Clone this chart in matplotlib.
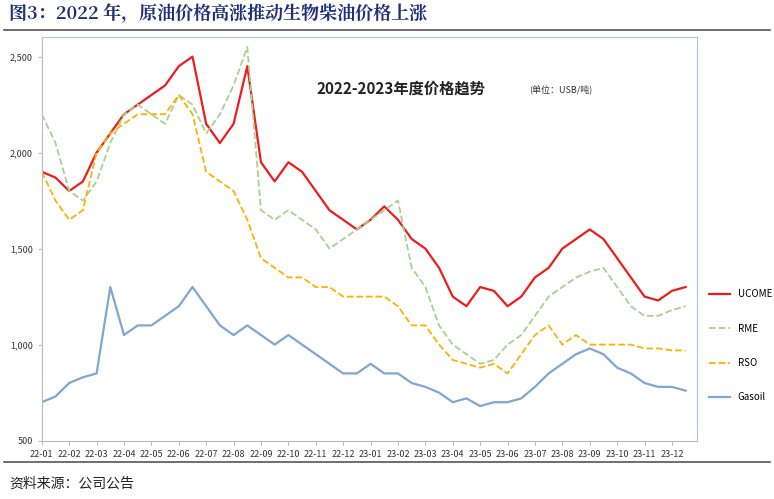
import matplotlib.pyplot as plt
import numpy as np

plt.rcParams["font.family"] = ["Noto Sans CJK SC"]

# 月度标签与半月数据（单位：USD/吨）
months = ["22-01", "22-02", "22-03", "22-04", "22-05", "22-06", "22-07", "22-08",
          "22-09", "22-10", "22-11", "22-12", "23-01", "23-02", "23-03", "23-04",
          "23-05", "23-06", "23-07", "23-08", "23-09", "23-10", "23-11", "23-12"]
ucome = [1900, 1870, 1800, 1850, 2000, 2100, 2200, 2250, 2300, 2350, 2450, 2500,
         2150, 2050, 2150, 2450, 1950, 1850, 1950, 1900, 1800, 1700, 1650, 1600,
         1650, 1720, 1650, 1550, 1500, 1400, 1250, 1200, 1300, 1280, 1200, 1250,
         1350, 1400, 1500, 1550, 1600, 1550, 1450, 1350, 1250, 1230, 1280, 1300]
rme = [2200, 2050, 1800, 1750, 1850, 2050, 2200, 2250, 2200, 2150, 2300, 2250,
       2100, 2200, 2350, 2550, 1700, 1650, 1700, 1650, 1600, 1500, 1550, 1600,
       1650, 1700, 1750, 1400, 1300, 1100, 1000, 950, 900, 920, 1000, 1050,
       1150, 1250, 1300, 1350, 1380, 1400, 1300, 1200, 1150, 1150, 1180, 1200]
rso = [1900, 1750, 1650, 1700, 2000, 2100, 2150, 2200, 2200, 2200, 2300, 2200,
       1900, 1850, 1800, 1650, 1450, 1400, 1350, 1350, 1300, 1300, 1250, 1250,
       1250, 1250, 1200, 1100, 1100, 1000, 920, 900, 880, 900, 850, 950,
       1050, 1100, 1000, 1050, 1000, 1000, 1000, 1000, 980, 980, 970, 970]
gasoil = [700, 730, 800, 830, 850, 1300, 1050, 1100, 1100, 1150, 1200, 1300,
          1200, 1100, 1050, 1100, 1050, 1000, 1050, 1000, 950, 900, 850, 850,
          900, 850, 850, 800, 780, 750, 700, 720, 680, 700, 700, 720,
          780, 850, 900, 950, 980, 950, 880, 850, 800, 780, 780, 760]

x = np.arange(len(ucome)) / 2.0

fig = plt.figure(figsize=(7.74, 4.99), dpi=100)
ax = fig.add_axes([0.054, 0.117, 0.846, 0.808])

ax.plot(x, ucome, color="#ee1c1c", lw=1.6, label="UCOME")
ax.plot(x, rme, color="#a9d18e", lw=1.3, ls="--", label="RME")
ax.plot(x, rso, color="#ffb000", lw=1.3, ls="--", label="RSO")
ax.plot(x, gasoil, color="#7fa7d1", lw=1.6, label="Gasoil")

ax.set_xlim(0, 23.9)
ax.set_ylim(500, 2600)
ax.set_xticks(range(len(months)))
ax.set_xticklabels(months, fontsize=6.5, color="#333333")
ax.set_yticks([500, 1000, 1500, 2000, 2500])
ax.set_yticklabels(["500", "1,000", "1,500", "2,000", "2,500"], fontsize=6.5, color="#333333")
ax.tick_params(length=3, color="#bbbbbb")
for s in ["top", "right"]:
    ax.spines[s].set_color("#a9c4e0")
for s in ["left", "bottom"]:
    ax.spines[s].set_color("#bbbbbb")

ax.text(0.42, 0.86, "2022-2023年度价格趋势", transform=ax.transAxes,
        fontsize=11, fontweight="bold", color="#222222")
ax.text(0.745, 0.863, "(单位：USB/吨)", transform=ax.transAxes, fontsize=6.5, color="#333333")

ax.legend(loc="center left", bbox_to_anchor=(1.005, 0.235), frameon=False,
          fontsize=7, labelspacing=2.5, handlelength=2.2)

fig.text(0.012, 0.962, "图3：2022 年，原油价格高涨推动生物柴油价格上涨",
         fontsize=13, fontweight="bold", color="#1f2f7a", family="Noto Serif CJK SC")
fig.add_artist(plt.Line2D([0.005, 0.995], [0.94, 0.94], color="#555555", lw=1.2))
fig.add_artist(plt.Line2D([0.005, 0.995], [0.074, 0.074], color="#555555", lw=1.2))
fig.text(0.012, 0.022, "资料来源：公司公告", fontsize=10, color="#222222")

fig.savefig("out.png")
